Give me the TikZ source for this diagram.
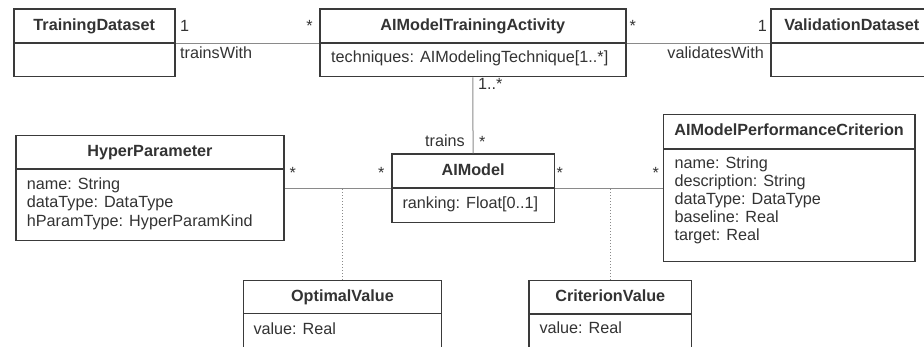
\documentclass[tikz,border=0pt]{standalone}
\usepackage{fontspec}
\setmainfont{Liberation Sans}
\definecolor{boxline}{HTML}{3A3A3A}
\definecolor{conn}{HTML}{8A8A8A}
\definecolor{txt}{HTML}{333333}
\begin{document}
\begin{tikzpicture}[x=1pt,y=-1pt,
  every node/.style={font=\fontsize{16.2}{18.5}\selectfont, text=txt},
  hdr/.style={draw=boxline, line width=1.5pt, fill=white, rectangle, anchor=north west, inner sep=0pt,
     font=\fontsize{16.2}{18.5}\selectfont\bfseries, text height=11.5pt, text depth=3.4pt},
  bdy/.style={draw=boxline, line width=1.5pt, fill=white, rectangle, anchor=north west, inner sep=0pt},
  attr/.style={anchor=base west, inner sep=0pt},
  lblw/.style={anchor=base west, inner sep=0pt},
  lble/.style={anchor=base east, inner sep=0pt},
  assoc/.style={draw=conn, line width=1pt},
  depline/.style={draw=conn, line width=1pt, dotted}]
\useasboundingbox (0,0) rectangle (924,347);
\clip (0,0) rectangle (924,347);

% TrainingDataset
\node[bdy, minimum width=161pt, minimum height=33.7pt] (tdb) at (13,42.3) {};
\node[hdr, minimum width=161pt, minimum height=34pt] (tdh) at (13,8.3) {TrainingDataset};
% AIModelTrainingActivity
\node[bdy, minimum width=306pt, minimum height=33.7pt] (mtab) at (319,42.3) {};
\node[hdr, minimum width=306pt, minimum height=34pt] (mtah) at (319,8.3) {AIModelTrainingActivity};
\node[attr] (mtaa) at (331,63) {techniques: AIModelingTechnique[1..*]};
% ValidationDataset
\node[bdy, minimum width=170pt, minimum height=33.7pt] (vdb) at (770,42.3) {};
\node[hdr, minimum width=170pt, minimum height=34pt, align=left, text width=170pt] (vdh) at (770,8.3) {\hspace*{13.5pt}ValidationDataset};
% HyperParameter
\node[bdy, minimum width=268.3pt, minimum height=71.7pt] (hpb) at (15,168.3) {};
\node[hdr, minimum width=268.3pt, minimum height=33.3pt] (hph) at (15,135) {HyperParameter};
\node[attr] (hpa1) at (26.7,189.5) {name: String};
\node[attr] (hpa2) at (26.7,208) {dataType: DataType};
\node[attr] (hpa3) at (26.7,226.5) {hParamType: HyperParamKind};
% AIModel
\node[bdy, minimum width=162.7pt, minimum height=34.4pt] (amb) at (391,187.3) {};
\node[hdr, minimum width=162.7pt, minimum height=34pt] (amh) at (391,153.3) {AIModel};
\node[attr] (ama) at (402.3,209) {ranking: Float[0..1]};
% AIModelPerformanceCriterion
\node[bdy, minimum width=251.3pt, minimum height=112.7pt] (pcb) at (662.7,148.3) {};
\node[hdr, minimum width=251.3pt, minimum height=34.3pt] (pch) at (662.7,114) {AIModelPerformanceCriterion};
\node[attr] (pca1) at (674.3,168.3) {name: String};
\node[attr] (pca2) at (674.3,186.3) {description: String};
\node[attr] (pca3) at (674.3,204.3) {dataType: DataType};
\node[attr] (pca4) at (674.3,222.3) {baseline: Real};
\node[attr] (pca5) at (674.3,240.3) {target: Real};
% OptimalValue
\node[bdy, minimum width=198pt, minimum height=50pt] (ovb) at (242.7,312.7) {};
\node[hdr, minimum width=198pt, minimum height=32.7pt] (ovh) at (242.7,280) {OptimalValue};
\node[attr] (ova) at (253.3,335) {value: Real};
% CriterionValue
\node[bdy, minimum width=162.4pt, minimum height=50pt] (cvb) at (528.3,313.3) {};
\node[hdr, minimum width=162.4pt, minimum height=33.3pt] (cvh) at (528.3,280) {CriterionValue};
\node[attr] (cva) at (539.3,334) {value: Real};

% associations
\draw[assoc] (tdh.south east) -- (mtah.south west);
\draw[assoc] (mtah.south east) -- (vdh.south west);
\draw[assoc] (mtab.south) -- (amh.north);
\coordinate (hpend) at (hpb.east |- amh.south west);
\coordinate (pcend) at (pcb.west |- amh.south east);
\draw[assoc] (amh.south west) -- (hpend);
\draw[assoc] (amh.south east) -- (pcend);
\draw[depline] (ovh.north) -- (ovh.north |- amh.south);
\draw[depline] (cvh.north) -- (cvh.north |- amh.south);

% labels
\node[lblw] (l1) at (180,32) {1};
\node[lble] (l2) at (313,32) {*};
\node[lblw] (l3) at (180,59) {trainsWith};
\node[lblw] (l4) at (629.5,32) {*};
\node[lble] (l5) at (767,32) {1};
\node[lble] (l6) at (764,59) {validatesWith};
\node[lblw] (l7) at (478,90) {1..*};
\node[lble] (l8) at (465,147) {trains};
\node[lblw] (l9) at (479,148) {*};
\node[lblw] (l10) at (289.5,179) {*};
\node[lblw] (l11) at (378,179) {*};
\node[lblw] (l12) at (556.5,179) {*};
\node[lblw] (l13) at (652.5,179) {*};
\end{tikzpicture}
\end{document}
